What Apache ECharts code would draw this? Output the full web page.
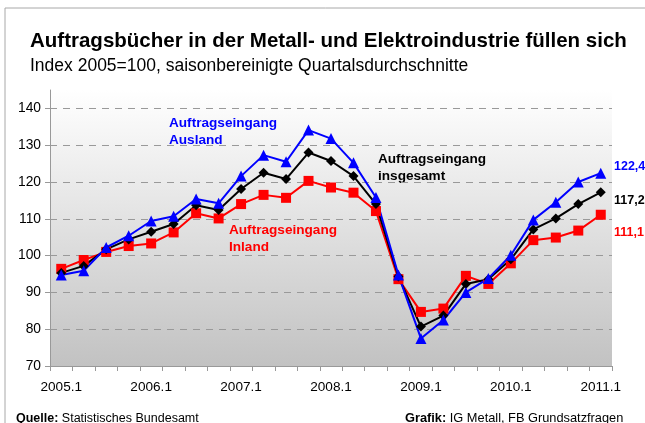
<!DOCTYPE html>
<html>
<head>
<meta charset="utf-8">
<script src="https://cdn.jsdelivr.net/npm/echarts@6/dist/echarts.min.js"></script>
<style>
  html, body { margin: 0; padding: 0; background: #fff; }
  #chart { width: 645px; height: 423px; }
</style>
</head>
<body>
<div id="chart"></div>
<script>
// Quartale 2005.1 .. 2011.1
const quarters = []
for (let y = 2005; y <= 2011; y++) {
  for (let q = 1; q <= 4; q++) {
    if (y === 2011 && q > 1) break
    quarters.push(y + '.' + q)
  }
}

const ausland = [94.7, 95.9, 102.2, 105.4, 109.4, 110.7, 115.4, 114.2, 121.6, 127.3, 125.5, 134.1, 131.8,
  125.2, 115.8, 94.7, 77.5, 82.5, 90.0, 93.8, 100.1, 109.7, 114.5, 120.0, 122.4]
const insgesamt = [95.3, 97.2, 101.7, 104.4, 106.5, 108.6, 113.7, 112.4, 118.1, 122.5, 120.8, 128.0, 125.7,
  121.6, 114.0, 94.3, 80.7, 83.7, 92.3, 93.6, 99.0, 107.1, 110.1, 114.0, 117.2]
const inland = [96.4, 98.8, 101.0, 102.6, 103.3, 106.3, 111.5, 110.1, 114.0, 116.5, 115.7, 120.3, 118.5,
  117.1, 112.1, 93.6, 84.7, 85.6, 94.5, 92.3, 97.9, 104.2, 104.9, 106.8, 111.1]

const yTicks = [70, 80, 90, 100, 110, 120, 130, 140]

const font = '"Liberation Sans", Arial, sans-serif'

let chart = echarts.init(document.getElementById('chart'))

const fmt = v => v.toFixed(1).replace('.', ',')

let options = {
  animation: false,
  textStyle: { fontFamily: font },
  grid: {
    left: 50, right: 33, top: 90, bottom: 57,
    show: true,
    borderWidth: 0,
    backgroundColor: new echarts.graphic.LinearGradient(0, 0, 0, 1, [
      { offset: 0, color: '#ffffff' },
      { offset: 1, color: '#c2c2c2' }
    ])
  },
  xAxis: {
    type: 'category',
    data: quarters,
    boundaryGap: true,
    axisLine: { lineStyle: { color: '#999', width: 1 } },
    axisTick: { show: true, interval: 0, length: 5, lineStyle: { color: '#999' } },
    axisLabel: {
      interval: 3,
      color: '#000',
      fontSize: 13.6,
      fontFamily: font,
      margin: 14
    },
    splitLine: { show: false }
  },
  yAxis: {
    type: 'value',
    min: 70,
    max: 145,
    interval: 10,
    axisLine: { show: true, lineStyle: { color: '#999', width: 1 } },
    axisTick: { show: true, length: 5, customValues: yTicks, lineStyle: { color: '#999' } },
    axisLabel: {
      customValues: yTicks,
      color: '#000',
      fontSize: 13.8,
      fontFamily: font,
      margin: 9
    },
    splitLine: {
      show: true,
      lineStyle: {
        color: ['#999', '#999', '#999', '#999', '#999', '#999', '#999', '#999', 'rgba(0,0,0,0)'],
        type: [7, 6],
        width: 1
      }
    }
  },
  series: [
    {
      name: 'Inland',
      type: 'line',
      data: inland,
      symbol: 'rect',
      symbolSize: 10,
      color: '#ff0000',
      lineStyle: { width: 2, color: '#ff0000' }
    },
    {
      name: 'insgesamt',
      type: 'line',
      data: insgesamt,
      symbol: 'diamond',
      symbolSize: 10,
      color: '#000000',
      lineStyle: { width: 2, color: '#000000' }
    },
    {
      name: 'Ausland',
      type: 'line',
      data: ausland,
      symbol: 'triangle',
      symbolSize: 11,
      color: '#0000ff',
      lineStyle: { width: 2, color: '#0000ff' }
    }
  ],
  graphic: [
    {
      type: 'rect',
      shape: { x: 5, y: 8, width: 700, height: 500 },
      style: { fill: 'none', stroke: '#a8a8a8', lineWidth: 1 },
      silent: true
    },
    {
      type: 'text', left: 30, top: 31,
      style: { text: 'Auftragsbücher in der Metall- und Elektroindustrie füllen sich', font: 'bold 20.5px ' + font, fill: '#000' }
    },
    {
      type: 'text', left: 30, top: 57,
      style: { text: 'Index 2005=100, saisonbereinigte Quartalsdurchschnitte', font: '17.5px ' + font, fill: '#000' }
    },
    {
      type: 'text', left: 169, top: 115,
      style: { text: 'Auftragseingang\nAusland', font: 'bold 13.6px ' + font, fill: '#0000ff', lineHeight: 17 }
    },
    {
      type: 'text', left: 229, top: 222,
      style: { text: 'Auftragseingang\nInland', font: 'bold 13.6px ' + font, fill: '#ff0000', lineHeight: 17 }
    },
    {
      type: 'text', left: 378, top: 151,
      style: { text: 'Auftragseingang\ninsgesamt', font: 'bold 13.6px ' + font, fill: '#000', lineHeight: 17 }
    },
    {
      type: 'text', left: 614, top: 160,
      style: { text: fmt(ausland[ausland.length - 1]), font: 'bold 12.5px ' + font, fill: '#0000ff' }
    },
    {
      type: 'text', left: 614, top: 194,
      style: { text: fmt(insgesamt[insgesamt.length - 1]), font: 'bold 12.5px ' + font, fill: '#000' }
    },
    {
      type: 'text', left: 614, top: 226,
      style: { text: fmt(inland[inland.length - 1]), font: 'bold 12.5px ' + font, fill: '#ff0000' }
    },
    {
      type: 'text', left: 16, top: 412,
      style: {
        text: '{b|Quelle:} Statistisches Bundesamt',
        font: '12.5px ' + font, fill: '#000',
        rich: { b: { fontWeight: 'bold', fontSize: 12.5, fontFamily: font } }
      }
    },
    {
      type: 'text', left: 405, top: 412,
      style: {
        text: '{b|Grafik:} IG Metall, FB Grundsatzfragen',
        font: '12.8px ' + font, fill: '#000',
        rich: { b: { fontWeight: 'bold', fontSize: 12.8, fontFamily: font } }
      }
    }
  ]
}

chart.setOption(options, true)
window.onresize = chart.resize
</script>
</body>
</html>
